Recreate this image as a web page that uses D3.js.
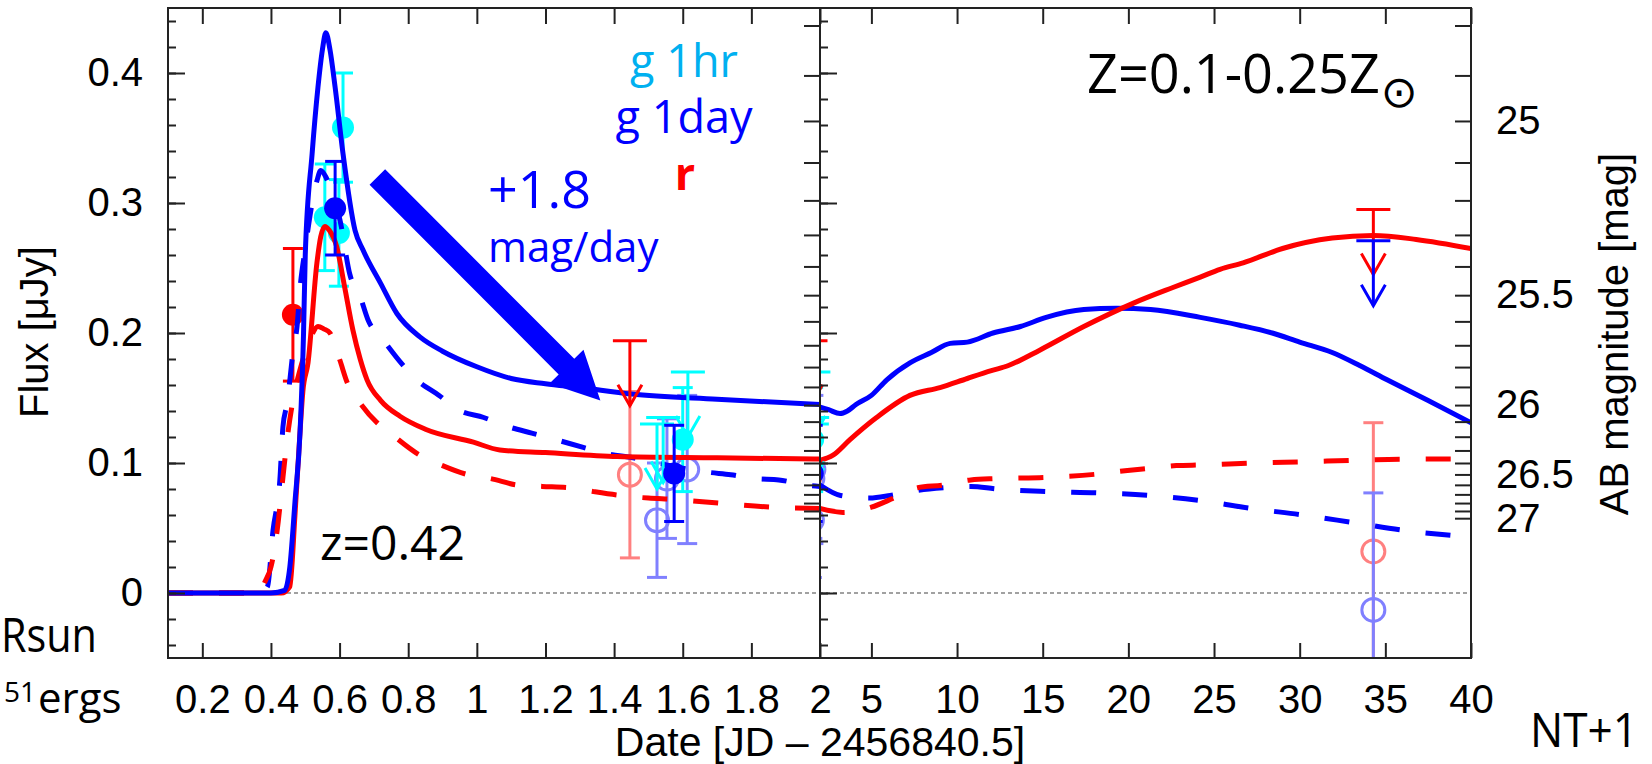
<!DOCTYPE html>
<html>
<head>
<meta charset="utf-8">
<script src="https://cdn.jsdelivr.net/npm/d3@7"></script>
<style>
  html, body { margin: 0; padding: 0; background: #fff; }
  svg { display: block; }
</style>
</head>
<body>
<div id="chart"></div>
<script>
// ---- model light curves: [days since JD 2456840.5, flux in uJy] ----
var gSolidEarly = [[0.10,0],[0.40,0],[0.44,0.002],[0.455,0.02],[0.47,0.07],[0.485,0.125],[0.495,0.2],
  [0.50,0.26],[0.52,0.338],[0.537,0.389],[0.55,0.418],[0.56,0.431],[0.572,0.418],[0.587,0.389],
  [0.61,0.338],[0.645,0.279],[0.668,0.264],[0.72,0.238],[0.767,0.215],[0.834,0.197],[0.9,0.186],
  [1.0,0.174],[1.1,0.165],[1.2,0.161],[1.3,0.158],[1.45,0.153],[1.7,0.149],[2.0,0.145]];
var rSolidEarly = [[0.10,0],[0.43,0],[0.455,0.005],[0.47,0.06],[0.485,0.125],[0.493,0.155],[0.508,0.177],
  [0.534,0.254],[0.545,0.274],[0.557,0.282],[0.57,0.279],[0.592,0.266],[0.615,0.235],[0.639,0.202],
  [0.66,0.18],[0.68,0.164],[0.72,0.148],[0.776,0.136],[0.85,0.126],[0.99,0.116],[1.067,0.110],
  [1.2,0.108],[1.41,0.105],[1.7,0.104],[2.0,0.103]];
var gDashEarly = [[0.10,0],[0.37,0],[0.39,0.005],[0.406,0.048],[0.426,0.087],[0.435,0.128],[0.447,0.146],
  [0.456,0.166],[0.464,0.185],[0.476,0.205],[0.485,0.235],[0.50,0.265],[0.52,0.30],[0.535,0.318],
  [0.545,0.325],[0.56,0.32],[0.572,0.312],[0.601,0.287],[0.63,0.245],[0.66,0.228],[0.683,0.21],
  [0.726,0.195],[0.776,0.178],[0.825,0.164],[0.89,0.152],[0.945,0.141],[1.02,0.135],[1.09,0.128],
  [1.16,0.123],[1.23,0.118],[1.31,0.112],[1.38,0.107],[1.455,0.104],[1.525,0.1],[1.6,0.096],
  [1.67,0.093],[1.74,0.091],[1.81,0.088],[1.88,0.087],[1.96,0.083],[2.0,0.082]];
var rDashEarly = [[0.10,0],[0.36,0],[0.385,0.01],[0.40,0.02],[0.418,0.048],[0.435,0.089],[0.447,0.118],
  [0.464,0.148],[0.485,0.172],[0.505,0.189],[0.52,0.199],[0.537,0.205],[0.555,0.203],[0.572,0.2],
  [0.601,0.179],[0.622,0.162],[0.66,0.146],[0.709,0.131],[0.738,0.125],[0.834,0.106],[0.9,0.098],
  [0.974,0.091],[1.04,0.088],[1.12,0.083],[1.19,0.082],[1.27,0.081],[1.34,0.078],[1.42,0.075],
  [1.5,0.073],[1.57,0.072],[1.71,0.069],[1.86,0.066],[2.0,0.065]];

var gSolidLate = [[2,0.143],[2.5,0.141],[3.17,0.138],[3.6,0.14],[4.1,0.145],[5.0,0.152],[5.9,0.164],
  [7.25,0.177],[8.5,0.185],[9.6,0.192],[10.6,0.193],[12.1,0.2],[13.7,0.205],[15.2,0.212],[17.4,0.218],
  [19.3,0.219],[21.3,0.218],[24.2,0.212],[26.5,0.206],[28.4,0.2],[30,0.193],[31.9,0.185],[33.5,0.175],
  [35.1,0.164],[37.5,0.148],[40,0.131]];
var rSolidLate = [[2,0.102],[2.76,0.106],[3.75,0.118],[5.3,0.135],[7.25,0.152],[9.0,0.158],[10.6,0.165],
  [12,0.171],[13.0,0.175],[14.85,0.187],[17.4,0.205],[20.3,0.223],[22.6,0.235],[24.2,0.243],[25.35,0.249],
  [26.7,0.254],[29.0,0.265],[31.9,0.273],[34.3,0.275],[36.8,0.272],[40,0.265]];
var gDashLate = [[2,0.083],[3.2,0.075],[4.9,0.073],[6.1,0.075],[7.7,0.079],[9.2,0.081],[10.8,0.082],
  [12.3,0.08],[15.2,0.078],[18.2,0.077],[21.3,0.075],[24.3,0.071],[27.2,0.065],[30.2,0.06],[33.2,0.054],
  [36.2,0.048],[40,0.043]];
var rDashLate = [[2,0.065],[3.34,0.062],[5.0,0.066],[6.3,0.073],[7.7,0.081],[9.2,0.083],[10.8,0.087],
  [12.3,0.088],[15.3,0.089],[18.2,0.0915],[19.8,0.094],[21.3,0.096],[22.8,0.098],[24.3,0.0985],
  [27.3,0.1],[30.4,0.101],[33,0.102],[36.3,0.103],[40,0.103]];

// ---- observations ----
var gDayObs = [{t: 0.587, f: 0.296, e: 0.036}, {t: 1.575, f: 0.092, e: 0.037}];
var gHourObs = [{t: 0.557, f: 0.289, e: 0.041}, {t: 0.598, f: 0.277, e: 0.041},
  {t: 0.610, f: 0.358, e: 0.042}, {t: 1.600, f: 0.118, e: 0.040}];
var gHourLimits = [{t: 1.525, f: 0.130}, {t: 1.543, f: 0.135}, {t: 1.615, f: 0.170}];
var rObs = [{t: 0.464, f: 0.214, e: 0.051}];
var rLimits = [{t: 1.446, f: 0.194}, {t: 34.3, f: 0.295}];
var gLimits = [{t: 34.3, f: 0.271}];
var rFaint = [{t: 1.446, f: 0.091, e: 0.064}, {t: 34.3, f: 0.032, e: 0.099}];
var gFaint = [{t: 1.525, f: 0.056, e: 0.044}, {t: 1.554, f: 0.088, e: 0.046},
  {t: 1.613, f: 0.095, e: 0.057}, {t: 34.3, f: -0.013, e: 0.090}];

// ---- axes ----
var earlyTicks = [0.2, 0.4, 0.6, 0.8, 1, 1.2, 1.4, 1.6, 1.8, 2];
var lateTicks = [5, 10, 15, 20, 25, 30, 35, 40];
var fluxTicks = [0, 0.1, 0.2, 0.3, 0.4];
var magTicks = [25, 25.5, 26, 26.5, 27];
var magLabels = ["25", "25.5", "26", "26.5", "27"];

(function(){

    var width = 1652;
    var height = 764;
    var frame = {left: 168, mid: 820, right: 1471, top: 8, bottom: 658};

    var axisFont = "'Liberation Sans', Arial, Helvetica, sans-serif";
    var noteFont = "'Open Sans', 'Noto Sans', sans-serif";
    var tickSize = 40;

    var blue = "#0000ff", red = "#ff0000", cyan = "#00ffff",
        pink = "#ff8080", paleBlue = "#8080ff";

    var svg = d3.select("#chart")
        .append("svg")
            .attr("width", width)
            .attr("height", height);

    var y = d3.scaleLinear().domain([-0.05, 0.45]).range([frame.bottom, frame.top]);
    var xEarly = d3.scaleLinear().domain([0.1, 2]).range([frame.left, frame.mid]);
    var xLate = d3.scaleLinear().domain([2, 40]).range([frame.mid, frame.right]);

    // AB magnitude -> flux in uJy
    function magToFlux(m) { return 3631e6 * Math.pow(10, -0.4 * m); }

    var fluxMinor = d3.range(-0.04, 0.441, 0.02);
    var magMinor = d3.range(24.8, 27.05, 0.1);

    var defs = svg.append("defs");
    defs.append("clipPath").attr("id", "clipEarly").append("rect")
        .attr("x", frame.left).attr("y", frame.top)
        .attr("width", frame.mid - frame.left).attr("height", frame.bottom - frame.top);
    defs.append("clipPath").attr("id", "clipLate").append("rect")
        .attr("x", frame.mid).attr("y", frame.top)
        .attr("width", frame.right - frame.mid).attr("height", frame.bottom - frame.top);

    // zero line
    svg.append("line")
        .attr("x1", frame.left).attr("x2", frame.right)
        .attr("y1", y(0)).attr("y2", y(0))
        .attr("stroke", "#444").attr("stroke-width", 1.2)
        .attr("stroke-dasharray", "4,3");

    var capW = 10, limCapW = 17, limLen = 0.05;

    function errorBars(g, data, x, color) {
        var e = g.append("g").attr("stroke", color).attr("stroke-width", 3).attr("fill", "none");
        e.selectAll("line.bar").data(data).enter().append("line")
            .attr("class", "bar")
            .attr("x1", function(d){ return x(d.t); }).attr("x2", function(d){ return x(d.t); })
            .attr("y1", function(d){ return y(d.f + d.e); }).attr("y2", function(d){ return y(d.f - d.e); });
        [1, -1].forEach(function(s){
            e.selectAll(null).data(data).enter().append("line")
                .attr("x1", function(d){ return x(d.t) - capW; }).attr("x2", function(d){ return x(d.t) + capW; })
                .attr("y1", function(d){ return y(d.f + s * d.e); }).attr("y2", function(d){ return y(d.f + s * d.e); });
        });
    }

    function dots(g, data, x, color, open) {
        g.selectAll(null).data(data).enter().append("circle")
            .attr("cx", function(d){ return x(d.t); })
            .attr("cy", function(d){ return y(d.f); })
            .attr("r", open ? 11.5 : 11)
            .attr("fill", open ? "none" : color)
            .attr("stroke", open ? color : "none")
            .attr("stroke-width", 3);
    }

    function limits(g, data, x, color) {
        var u = g.append("g").attr("stroke", color).attr("stroke-width", 3).attr("fill", "none");
        u.selectAll(null).data(data).enter().append("line")
            .attr("x1", function(d){ return x(d.t) - limCapW; }).attr("x2", function(d){ return x(d.t) + limCapW; })
            .attr("y1", function(d){ return y(d.f); }).attr("y2", function(d){ return y(d.f); });
        u.selectAll(null).data(data).enter().append("line")
            .attr("x1", function(d){ return x(d.t); }).attr("x2", function(d){ return x(d.t); })
            .attr("y1", function(d){ return y(d.f); }).attr("y2", function(d){ return y(d.f - limLen); });
        u.selectAll(null).data(data).enter().append("polyline")
            .attr("points", function(d){
                var px = x(d.t), py = y(d.f - limLen);
                return [[px - 12, py - 21], [px, py], [px + 12, py - 21]].join(" ");
            });
    }

    function curves(g, x, sets) {
        var line = d3.line()
            .x(function(d){ return x(d[0]); })
            .y(function(d){ return y(d[1]); })
            .curve(d3.curveMonotoneX);
        sets.forEach(function(s){
            g.append("path")
                .attr("d", line(s.data))
                .attr("fill", "none")
                .attr("stroke", s.color)
                .attr("stroke-width", 5)
                .attr("stroke-dasharray", s.dash ? "25,26" : null);
        });
    }

    function panel(clipId, x, models) {
        var g = svg.append("g").attr("clip-path", "url(#" + clipId + ")");
        errorBars(g, rFaint, x, pink);
        dots(g, rFaint, x, pink, true);
        errorBars(g, gFaint, x, paleBlue);
        dots(g, gFaint, x, paleBlue, true);
        errorBars(g, gHourObs, x, cyan);
        dots(g, gHourObs, x, cyan, false);
        errorBars(g, rObs, x, red);
        dots(g, rObs, x, red, false);
        curves(g, x, models);
        limits(g, gHourLimits, x, cyan);
        limits(g, rLimits, x, red);
        limits(g, gLimits, x, blue);
        errorBars(g, gDayObs, x, blue);
        dots(g, gDayObs, x, blue, false);
    }

    panel("clipEarly", xEarly, [
        {data: gDashEarly, color: blue, dash: true},
        {data: rDashEarly, color: red, dash: true},
        {data: rSolidEarly, color: red},
        {data: gSolidEarly, color: blue}
    ]);
    panel("clipLate", xLate, [
        {data: gDashLate, color: blue, dash: true},
        {data: rDashLate, color: red, dash: true},
        {data: gSolidLate, color: blue},
        {data: rSolidLate, color: red}
    ]);

    // ---- frame and axes ----
    function styleAxis(g) {
        g.select(".domain").remove();
        g.selectAll(".tick line").attr("stroke", "#222").attr("stroke-width", 2);
        g.selectAll(".tick text").attr("fill", "#000");
        g.attr("font-family", axisFont).attr("font-size", tickSize);
    }

    var fmt = d3.format("~g");

    svg.append("g").attr("transform", "translate(0," + frame.bottom + ")")
        .call(d3.axisBottom(xEarly).tickValues(earlyTicks).tickSize(-15).tickPadding(27).tickFormat(fmt))
        .call(styleAxis);
    svg.append("g").attr("transform", "translate(0," + frame.bottom + ")")
        .call(d3.axisBottom(xLate).tickValues(lateTicks).tickSize(-15).tickPadding(27).tickFormat(fmt))
        .call(styleAxis);
    svg.append("g").attr("transform", "translate(0," + frame.top + ")")
        .call(d3.axisTop(xEarly).tickValues(earlyTicks).tickSize(-16).tickFormat(""))
        .call(styleAxis);
    svg.append("g").attr("transform", "translate(0," + frame.top + ")")
        .call(d3.axisTop(xLate).tickValues(lateTicks).tickSize(-16).tickFormat(""))
        .call(styleAxis);

    // flux axes: left edge and right side of the divider
    [frame.left, frame.mid].forEach(function(px, i){
        svg.append("g").attr("transform", "translate(" + px + ",0)")
            .call(d3.axisLeft(y).tickValues(fluxMinor).tickSize(-8).tickFormat(""))
            .call(styleAxis);
        svg.append("g").attr("transform", "translate(" + px + ",0)")
            .call(d3.axisLeft(y).tickValues(fluxTicks).tickSize(-17).tickPadding(25)
                .tickFormat(i === 0 ? function(d){ return d === 0 ? "0" : d3.format(".1f")(d); } : ""))
            .call(styleAxis);
    });

    // magnitude axes: left side of the divider and right edge
    [frame.mid, frame.right].forEach(function(px, i){
        svg.append("g").attr("transform", "translate(" + px + ",0)")
            .call(d3.axisRight(y).tickValues(magMinor.map(magToFlux)).tickSize(-16).tickFormat(""))
            .call(styleAxis);
        if (i === 1) {
            svg.append("g").attr("transform", "translate(" + px + ",0)")
                .call(d3.axisRight(y).tickValues(magTicks.map(magToFlux)).tickSize(0).tickPadding(25)
                    .tickFormat(function(d, j){ return magLabels[j]; }))
                .call(styleAxis);
        }
    });

    svg.append("rect")
        .attr("x", frame.left).attr("y", frame.top)
        .attr("width", frame.right - frame.left).attr("height", frame.bottom - frame.top)
        .attr("fill", "none").attr("stroke", "#222").attr("stroke-width", 2);
    svg.append("line")
        .attr("x1", frame.mid).attr("x2", frame.mid)
        .attr("y1", frame.top).attr("y2", frame.bottom)
        .attr("stroke", "#222").attr("stroke-width", 2);

    // axis titles
    svg.append("text")
        .attr("transform", "translate(48,332) rotate(-90)")
        .attr("text-anchor", "middle")
        .attr("font-family", axisFont).attr("font-size", 40).attr("fill", "#000")
        .text("Flux [μJy]");
    svg.append("text")
        .attr("transform", "translate(1628,334) rotate(-90)")
        .attr("text-anchor", "middle")
        .attr("font-family", axisFont).attr("font-size", 40).attr("fill", "#000")
        .text("AB magnitude [mag]");
    svg.append("text")
        .attr("x", frame.mid).attr("y", 756)
        .attr("text-anchor", "middle")
        .attr("font-family", axisFont).attr("font-size", 41).attr("fill", "#000")
        .text("Date [JD – 2456840.5]");

    // decline arrow
    var arrowFrom = [0.71, 0.32], arrowTo = [1.36, 0.148];
    var p0 = [xEarly(arrowFrom[0]), y(arrowFrom[1])], p1 = [xEarly(arrowTo[0]), y(arrowTo[1])];
    var dx = p1[0] - p0[0], dy = p1[1] - p0[1], len = Math.sqrt(dx * dx + dy * dy);
    var ux = dx / len, uy = dy / len, nx = -uy, ny = ux;
    var shaft = 11, head = 24, headLen = 48;
    var bx = p1[0] - ux * headLen, by = p1[1] - uy * headLen;
    svg.append("polygon")
        .attr("points", [
            [p0[0] + nx * shaft, p0[1] + ny * shaft],
            [bx + nx * shaft, by + ny * shaft],
            [bx + nx * head, by + ny * head],
            p1,
            [bx - nx * head, by - ny * head],
            [bx - nx * shaft, by - ny * shaft],
            [p0[0] - nx * shaft, p0[1] - ny * shaft]
        ].join(" "))
        .attr("fill", blue);

    // annotations
    function note(x, yy, txt, size, color, anchor, weight) {
        return svg.append("text")
            .attr("x", x).attr("y", yy)
            .attr("text-anchor", anchor || "start")
            .attr("font-family", noteFont)
            .attr("font-size", size)
            .attr("font-weight", weight || "normal")
            .attr("fill", color)
            .text(txt);
    }
    note(684, 77, "g 1hr", 45, "#00b0f0", "middle");
    note(684, 133, "g 1day", 45, blue, "middle");
    note(685, 190, "r", 45, red, "middle", "bold");
    note(488, 208, "+1.8", 52, blue);
    note(488, 262, "mag/day", 42, blue);
    note(320, 560, "z=0.42", 48, "#000");

    var zt = note(1087, 93, "Z=0.1-0.25Z", 54, "#000");
    zt.append("tspan")
        .attr("font-family", "'DejaVu Sans', sans-serif")
        .attr("font-size", 44)
        .attr("dx", 1).attr("dy", 14)
        .text("⊙");

    note(1, 652, "Rsun", 47, "#000")
        .attr("textLength", 96).attr("lengthAdjust", "spacingAndGlyphs");
    var eg = note(4, 702, "51", 28, "#000");
    eg.append("tspan").attr("font-size", 42).attr("dx", 2).attr("dy", 11).text("ergs");
    note(1530, 747, "NT+1", 48, "#000")
        .attr("textLength", 108).attr("lengthAdjust", "spacingAndGlyphs");

})();
</script>
</body>
</html>
